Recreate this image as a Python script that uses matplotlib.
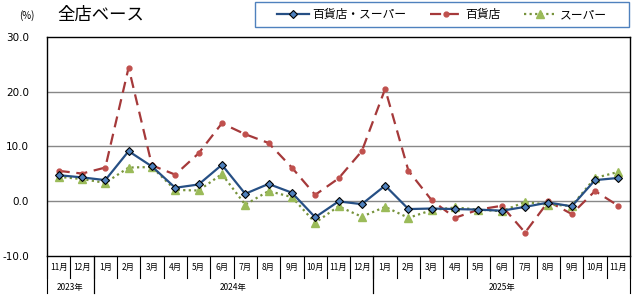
import matplotlib
matplotlib.use("Agg")
import matplotlib.pyplot as plt
import matplotlib.transforms as mtransforms
from matplotlib.patches import Rectangle

plt.rcParams['font.family'] = ['Noto Sans CJK JP', 'DejaVu Sans']

months = ["11月", "12月", "1月", "2月", "3月", "4月", "5月", "6月", "7月", "8月", "9月", "10月",
          "11月", "12月", "1月", "2月", "3月", "4月", "5月", "6月", "7月", "8月", "9月", "10月", "11月"]
years = ["2023年", "2024年", "2025年"]
year_spans = [(0, 1), (2, 13), (14, 24)]

total = [4.7, 4.3, 3.8, 9.1, 6.3, 2.4, 3.0, 6.6, 1.3, 3.1, 1.5, -3.0,
         -0.1, -0.6, 2.8, -1.5, -1.4, -1.5, -1.6, -1.8, -1.1, -0.3, -1.0, 3.8, 4.2]
dept = [5.5, 5.0, 6.1, 24.4, 6.5, 4.8, 8.7, 14.2, 12.2, 10.6, 6.1, 1.1,
        4.1, 9.1, 20.5, 5.5, 0.1, -3.1, -1.6, -0.9, -5.8, -0.1, -2.4, 1.8, -0.9]
super_ = [4.4, 4.0, 3.3, 6.1, 6.2, 2.0, 1.9, 4.9, -0.7, 1.8, 0.7, -4.0,
          -1.0, -2.9, -1.1, -3.1, -1.7, -1.2, -1.6, -1.9, -0.2, -0.7, -0.9, 4.2, 5.3]
yticks = [-10, 0, 10, 20, 30]

fig = plt.figure(figsize=(6.4, 3.0), dpi=100)
ax = fig.add_axes([47/640, 1-255.5/300, (630-47)/640, (255.5-37)/300])

x = list(range(len(months)))
ax.plot(x, dept, color='#A5393A', lw=1.6, dashes=(5, 3), marker='o', ms=3.5,
        mfc='#C0504D', mec='#C0504D', label='百貨店', zorder=3)
ax.plot(x, super_, color='#77933C', lw=1.6, ls=(0, (1, 1.5)), marker='^', ms=5.5,
        mfc='#9BBB59', mec='#9BBB59', label='スーパー', zorder=4)
ax.plot(x, total, color='#264F84', lw=1.6, marker='D', ms=4,
        mfc='#4F81BD', mec='black', mew=0.8, label='百貨店・スーパー', zorder=5)

ax.set_xlim(-0.5, len(months) - 0.5)
ax.set_ylim(-10, 30)
ax.set_yticks(yticks)
ax.set_yticklabels([f"{v:.1f}" for v in yticks], fontsize=7.5, family=['DejaVu Sans'])
ax.tick_params(axis='y', length=0, pad=13)
ax.set_xticks([])
for v in [0, 10, 20]:
    ax.axhline(v, color='#888888', lw=1.0, zorder=1)
for s in ax.spines.values():
    s.set_color('black')
    s.set_linewidth(1.0)

trans = mtransforms.blended_transform_factory(ax.transData, ax.transAxes)
for i, m in enumerate(months):
    ax.text(i, -0.055, m, transform=trans, ha='center', va='center', fontsize=6)
for b in range(len(months) + 1):
    ax.plot([b - 0.5, b - 0.5], [0, -0.103], transform=trans, color='black', lw=0.8, clip_on=False)
for (a, bnd), y in zip(year_spans, years):
    ax.text((a + bnd) / 2, -0.145, y, transform=trans, ha='center', va='center', fontsize=6)
    for e in (a - 0.5, bnd + 0.5):
        ax.plot([e, e], [0, -0.172], transform=trans, color='black', lw=0.8, clip_on=False)

fig.text(27/640, 1-16/300, "(%)", ha='center', va='center', fontsize=7)
fig.text(57/640, 1-15/300, "全店ベース", ha='left', va='center', fontsize=12.5)

# legend frame
fig.patches.append(Rectangle((255/640, 1-27/300), (629-255)/640, 25/300, transform=fig.transFigure,
                             fill=False, edgecolor='#4F81BD', lw=1.0))
h, l = ax.get_legend_handles_labels()
order = [2, 0, 1]
leg = fig.legend([h[i] for i in order], [l[i] for i in order], ncol=3, loc='center',
                 bbox_to_anchor=(442/640, 1-14.5/300), fontsize=8.5, frameon=False,
                 handlelength=2.7, columnspacing=2.0, handletextpad=0.3, borderpad=0.2,
                 borderaxespad=0)

fig.savefig("out.png", dpi=100)
